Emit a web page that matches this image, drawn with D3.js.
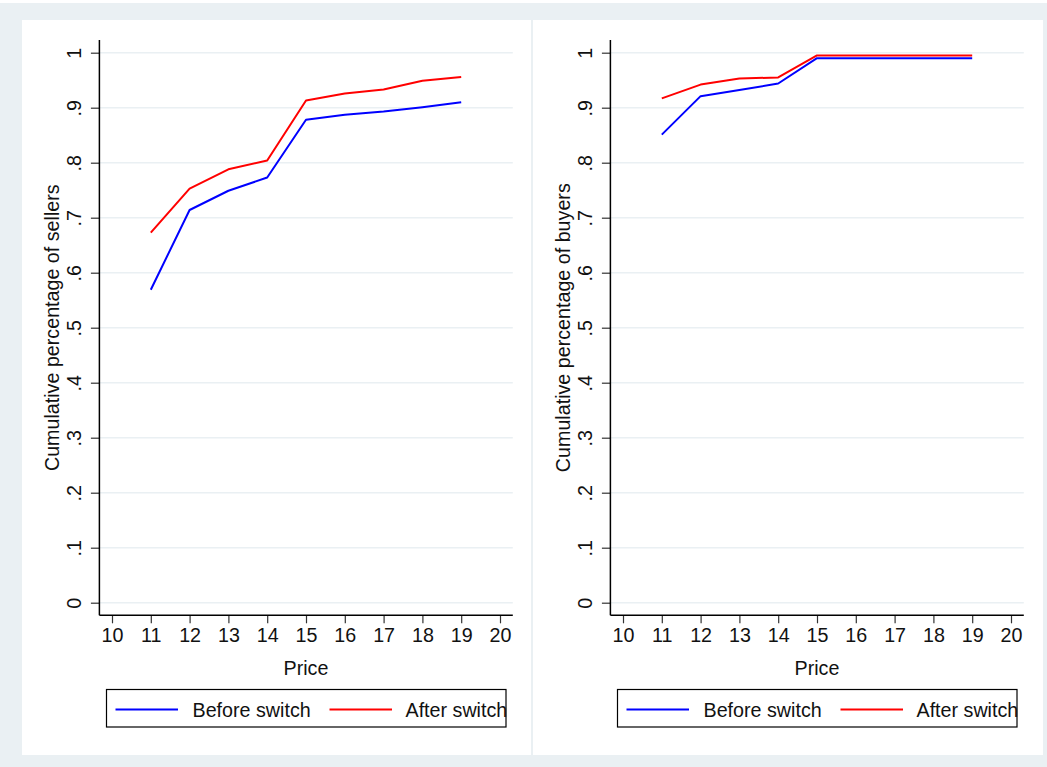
<!DOCTYPE html>
<html>
<head>
<meta charset="utf-8">
<script src="https://cdn.jsdelivr.net/npm/d3@7"></script>
<style>
html,body{margin:0;padding:0;background:#ffffff;}
svg{display:block;font-family:"Liberation Sans",Arial,Helvetica,sans-serif;}
</style>
</head>
<body>
<svg id="chart" width="1047" height="767"></svg>
<script>
// ---- data ----
const prices = [11, 12, 13, 14, 15, 16, 17, 18, 19];
const sellersBefore = [0.569, 0.714, 0.749, 0.773, 0.878, 0.887, 0.893, 0.901, 0.910];
const sellersAfter  = [0.673, 0.753, 0.788, 0.804, 0.913, 0.926, 0.933, 0.949, 0.956];
const buyersBefore  = [0.851, 0.921, 0.932, 0.944, 0.990, 0.990, 0.990, 0.990, 0.990];
const buyersAfter   = [0.917, 0.942, 0.953, 0.955, 0.995, 0.995, 0.995, 0.995, 0.995];
const xTicks = [10, 11, 12, 13, 14, 15, 16, 17, 18, 19, 20];
const yTicks = [0, 0.1, 0.2, 0.3, 0.4, 0.5, 0.6, 0.7, 0.8, 0.9, 1];
const yTickLabels = ["0", ".1", ".2", ".3", ".4", ".5", ".6", ".7", ".8", ".9", "1"];
const seriesNames = ["Before switch", "After switch"];
const seriesColors = ["#0000ff", "#ff0000"];
const panelTitles = ["Cumulative percentage of sellers", "Cumulative percentage of buyers"];
const xTitle = "Price";

const FS = 19.7;
const svg = d3.select("#chart");
const bg = "#eaf0f3";
svg.append("rect").attr("x", 0).attr("y", 3).attr("width", 1047).attr("height", 764).attr("fill", bg);

const panels = [
  {dx: 0, whiteX: 22, whiteW: 509, title: panelTitles[0], series: [sellersBefore, sellersAfter]},
  {dx: 511, whiteX: 533, whiteW: 510, title: panelTitles[1], series: [buyersBefore, buyersAfter]}
];

panels.forEach(p => {
  const g = svg.append("g");
  g.append("rect").attr("x", p.whiteX).attr("y", 20).attr("width", p.whiteW).attr("height", 735).attr("fill", "#ffffff");

  const x = d3.scaleLinear().domain([10, 20]).range([112 + p.dx, 500 + p.dx]);
  const y = d3.scaleLinear().domain([0, 1]).range([602.7, 52.7]);
  const axX0 = 99.4 + p.dx, axX1 = 512.8 + p.dx, axY0 = 40, axY1 = 615.3;

  // gridlines
  g.append("g").selectAll("line").data(yTicks).join("line")
    .attr("x1", axX0).attr("x2", axX1)
    .attr("y1", d => y(d)).attr("y2", d => y(d))
    .attr("stroke", "#eaf0f3").attr("stroke-width", 1.5);

  // y axis
  const yAxis = d3.axisLeft(y).tickValues(yTicks).tickSize(8.5).tickPadding(10)
    .tickFormat((d, i) => yTickLabels[i]);
  const ya = g.append("g").attr("transform", `translate(${axX0},0)`).call(yAxis);
  ya.select(".domain").remove();
  ya.selectAll(".tick line").attr("stroke", "#333").attr("stroke-width", 1.2);
  ya.selectAll(".tick text")
    .attr("font-size", FS).attr("fill", "#111")
    .attr("text-anchor", "middle")
    .attr("x", null).attr("dy", null)
    .attr("transform", "translate(-25,0) rotate(-90)")
    .attr("dominant-baseline", "central");
  g.append("line").attr("x1", axX0).attr("x2", axX0).attr("y1", axY0).attr("y2", axY1)
    .attr("stroke", "#000").attr("stroke-width", 1.5);

  // x axis
  const xAxis = d3.axisBottom(x).tickValues(xTicks).tickSize(8).tickPadding(5).tickFormat(d3.format("d"));
  const xa = g.append("g").attr("transform", `translate(0,${axY1})`).call(xAxis);
  xa.select(".domain").remove();
  xa.selectAll(".tick line").attr("stroke", "#333").attr("stroke-width", 1.2);
  xa.selectAll(".tick text").attr("font-size", FS).attr("fill", "#111");
  g.append("line").attr("x1", axX0).attr("x2", axX1).attr("y1", axY1).attr("y2", axY1)
    .attr("stroke", "#000").attr("stroke-width", 1.5);

  // titles
  g.append("text").attr("x", (x(10) + x(20)) / 2).attr("y", 675)
    .attr("text-anchor", "middle").attr("font-size", FS).attr("fill", "#111").text(xTitle);
  g.append("text").attr("transform", `translate(${59 + p.dx},${y(0.5)}) rotate(-90)`)
    .attr("text-anchor", "middle").attr("font-size", FS).attr("fill", "#111").text(p.title);

  // lines
  const line = d3.line().x((d, i) => x(prices[i])).y(d => y(d));
  p.series.forEach((s, k) => {
    g.append("path").datum(s).attr("d", line)
      .attr("fill", "none").attr("stroke", seriesColors[k]).attr("stroke-width", 2)
      .attr("stroke-linejoin", "round");
  });

  // legend
  const lg = g.append("g").attr("transform", `translate(${106.5 + p.dx},689.5)`);
  lg.append("rect").attr("x", 0).attr("y", 0).attr("width", 399.5).attr("height", 37.5)
    .attr("fill", "#fff").attr("stroke", "#000").attr("stroke-width", 1.2);
  const items = [{lx: 9, tx: 86}, {lx: 223, tx: 299}];
  items.forEach((it, k) => {
    lg.append("line").attr("x1", it.lx).attr("x2", it.lx + 62.5).attr("y1", 20).attr("y2", 20)
      .attr("stroke", seriesColors[k]).attr("stroke-width", 1.8);
    lg.append("text").attr("x", it.tx).attr("y", 27).attr("font-size", FS).attr("fill", "#111")
      .text(seriesNames[k]);
  });
});
</script>
</body>
</html>
